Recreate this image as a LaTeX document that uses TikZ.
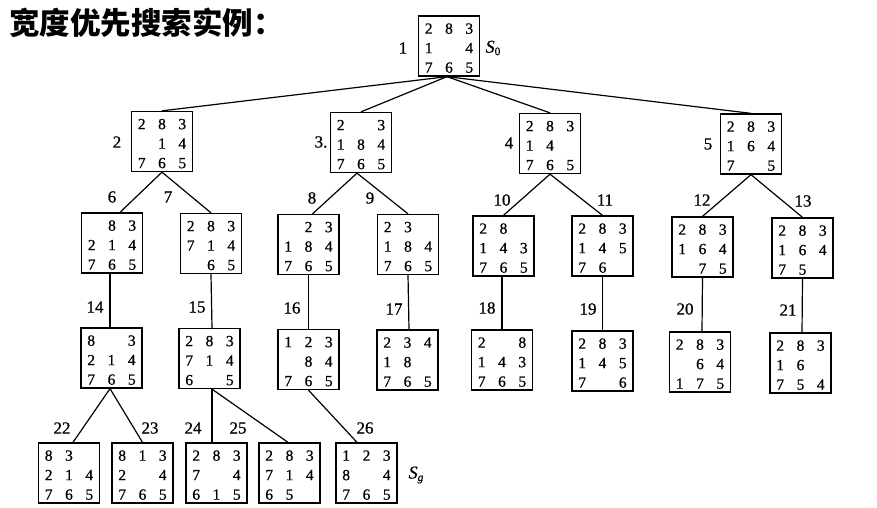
\documentclass[tikz,border=0pt]{standalone}
\usepackage{fontspec}
\setmainfont{Liberation Serif}[FakeBold=0.7]
\newfontfamily\cjk{Noto Sans CJK SC}
\newcommand\rw[3]{\makebox[20.3pt]{#1}\makebox[20.3pt]{#2}\makebox[20.3pt]{#3}}
\newcommand\pz[9]{\rule{0pt}{14.5pt}\rw{#1}{#2}{#3}\\\rw{#4}{#5}{#6}\\\rw{#7}{#8}{#9}}
\tikzset{
  puz/.style={draw, line width=1.3pt, minimum width=61pt, minimum height=60pt, inner sep=0pt, align=center, font=\fontsize{15.5}{19.5}\selectfont},
  lab/.style={inner sep=0pt, font=\fontsize{17}{17}\selectfont},
  edge/.style={line width=1.2pt}
}
\begin{document}
\begin{tikzpicture}[x=1pt,y=-1pt]
\useasboundingbox[fill=white] (0,0) rectangle (877,508);
\node[anchor=west, inner sep=0pt, font=\cjk\bfseries\fontsize{30.5}{30.5}\selectfont] (title) at (9,22.5) {宽度优先搜索实例：};

% level 1
\node[puz] (b1) at (449,46) {\pz{2}{8}{3}{1}{}{4}{7}{6}{5}};
% level 2
\node[puz] (b2) at (162,141.5) {\pz{2}{8}{3}{}{1}{4}{7}{6}{5}};
\node[puz] (b3) at (361,142.5) {\pz{2}{}{3}{1}{8}{4}{7}{6}{5}};
\node[puz] (b4) at (550,143.5) {\pz{2}{8}{3}{1}{4}{}{7}{6}{5}};
\node[puz] (b5) at (751,144) {\pz{2}{8}{3}{1}{6}{4}{7}{}{5}};
% level 3
\node[puz] (b6) at (112,243) {\pz{}{8}{3}{2}{1}{4}{7}{6}{5}};
\node[puz] (b7) at (211,243.5) {\pz{2}{8}{3}{7}{1}{4}{}{6}{5}};
\node[puz] (b8) at (308.5,244.5) {\pz{}{2}{3}{1}{8}{4}{7}{6}{5}};
\node[puz] (b9) at (408,244.5) {\pz{2}{3}{}{1}{8}{4}{7}{6}{5}};
\node[puz] (b10) at (503.5,246) {\pz{2}{8}{}{1}{4}{3}{7}{6}{5}};
\node[puz] (b11) at (602.5,246) {\pz{2}{8}{3}{1}{4}{5}{7}{6}{}};
\node[puz] (b12) at (702.5,247) {\pz{2}{8}{3}{1}{6}{4}{}{7}{5}};
\node[puz] (b13) at (802.5,248) {\pz{2}{8}{3}{1}{6}{4}{7}{5}{}};
% level 4
\node[puz] (b14) at (111.5,358) {\pz{8}{}{3}{2}{1}{4}{7}{6}{5}};
\node[puz] (b15) at (209.5,358.5) {\pz{2}{8}{3}{7}{1}{4}{6}{}{5}};
\node[puz] (b16) at (308.5,359.5) {\pz{1}{2}{3}{}{8}{4}{7}{6}{5}};
\node[puz] (b17) at (407.5,360) {\pz{2}{3}{4}{1}{8}{}{7}{6}{5}};
\node[puz] (b18) at (502,360) {\pz{2}{}{8}{1}{4}{3}{7}{6}{5}};
\node[puz] (b19) at (602.5,361) {\pz{2}{8}{3}{1}{4}{5}{7}{}{6}};
\node[puz] (b20) at (700,362) {\pz{2}{8}{3}{}{6}{4}{1}{7}{5}};
\node[puz] (b21) at (800.5,363) {\pz{2}{8}{3}{1}{6}{}{7}{5}{4}};
% level 5
\node[puz] (b22) at (69,473) {\pz{8}{3}{}{2}{1}{4}{7}{6}{5}};
\node[puz] (b23) at (142.5,473) {\pz{8}{1}{3}{2}{}{4}{7}{6}{5}};
\node[puz] (b24) at (216.5,473) {\pz{2}{8}{3}{7}{}{4}{6}{1}{5}};
\node[puz] (b25) at (289.5,473) {\pz{2}{8}{3}{7}{1}{4}{6}{5}{}};
\node[puz] (b26) at (366.5,473) {\pz{1}{2}{3}{8}{}{4}{7}{6}{5}};

% labels
\node[lab] (l1) at (403,48) {1};
\node[inner sep=0pt] (s0) at (493,48) {\fontsize{18}{18}\selectfont\textit{S}\raisebox{-2.5pt}{\fontsize{11.5}{11.5}\selectfont 0}};
\node[lab] (l2) at (117,142) {2};
\node[lab] (l3) at (321,142) {3.};
\node[lab] (l4) at (509,143) {4};
\node[lab] (l5) at (708,144) {5};
\node[lab] (l6) at (112,197) {6};
\node[lab] (l7) at (168,197) {7};
\node[lab] (l8) at (312,198) {8};
\node[lab] (l9) at (370,198) {9};
\node[lab] (l10) at (502,200) {10};
\node[lab] (l11) at (605,200) {11};
\node[lab] (l12) at (702,200) {12};
\node[lab] (l13) at (803,201) {13};
\node[lab] (l14) at (95,307) {14};
\node[lab] (l15) at (197,307) {15};
\node[lab] (l16) at (292,308) {16};
\node[lab] (l17) at (394,309) {17};
\node[lab] (l18) at (487,308) {18};
\node[lab] (l19) at (588,309) {19};
\node[lab] (l20) at (685,309) {20};
\node[lab] (l21) at (788,310) {21};
\node[lab] (l22) at (62,428) {22};
\node[lab] (l23) at (150,428) {23};
\node[lab] (l24) at (193,428) {24};
\node[lab] (l25) at (238,428) {25};
\node[lab] (l26) at (365,428) {26};
\node[inner sep=0pt] (sg) at (416,475) {\fontsize{18}{18}\selectfont\textit{S}\raisebox{-2.5pt}{\fontsize{11.5}{11.5}\selectfont\textit{g}}};

% edges
\draw[edge] ([xshift=-2pt]b1.south) -- (b2.north);
\draw[edge] ([xshift=-2pt]b1.south) -- (b3.north);
\draw[edge] ([xshift=-2pt]b1.south) -- (b4.north);
\draw[edge] ([xshift=-2pt]b1.south) -- (b5.north);
\draw[edge] (b2.south) -- ([xshift=8pt]b6.north);
\draw[edge] (b2.south) -- (b7.north);
\draw[edge] ([xshift=-4pt]b3.south) -- ([xshift=4pt]b8.north);
\draw[edge] ([xshift=-4pt]b3.south) -- (b9.north);
\draw[edge] (b4.south) -- (b10.north);
\draw[edge] (b4.south) -- (b11.north);
\draw[edge] (b5.south) -- (b12.north);
\draw[edge] (b5.south) -- (b13.north);
\draw[edge] ([xshift=-2pt]b6.south) -- ([xshift=-1.5pt]b14.north);
\draw[edge] (b7.south) -- ([xshift=2.5pt]b15.north);
\draw[edge] (b8.south) -- (b16.north);
\draw[edge] (b9.south) -- ([xshift=1.5pt]b17.north);
\draw[edge] ([xshift=-1.5pt]b10.south) -- (b18.north);
\draw[edge] (b11.south) -- (b19.north);
\draw[edge] (b12.south) -- ([xshift=2pt]b20.north);
\draw[edge] (b13.south) -- ([xshift=1.5pt]b21.north);
\draw[edge] ([xshift=-1.5pt]b14.south) -- ([xshift=4pt]b22.north);
\draw[edge] ([xshift=-1.5pt]b14.south) -- (b23.north);
\draw[edge] ([xshift=2.5pt]b15.south) -- ([xshift=-4.5pt]b24.north);
\draw[edge] ([xshift=2.5pt]b15.south) -- ([xshift=-1.5pt]b25.north);
\draw[edge] (b16.south) -- ([xshift=-9.5pt]b26.north);
\end{tikzpicture}
\end{document}
